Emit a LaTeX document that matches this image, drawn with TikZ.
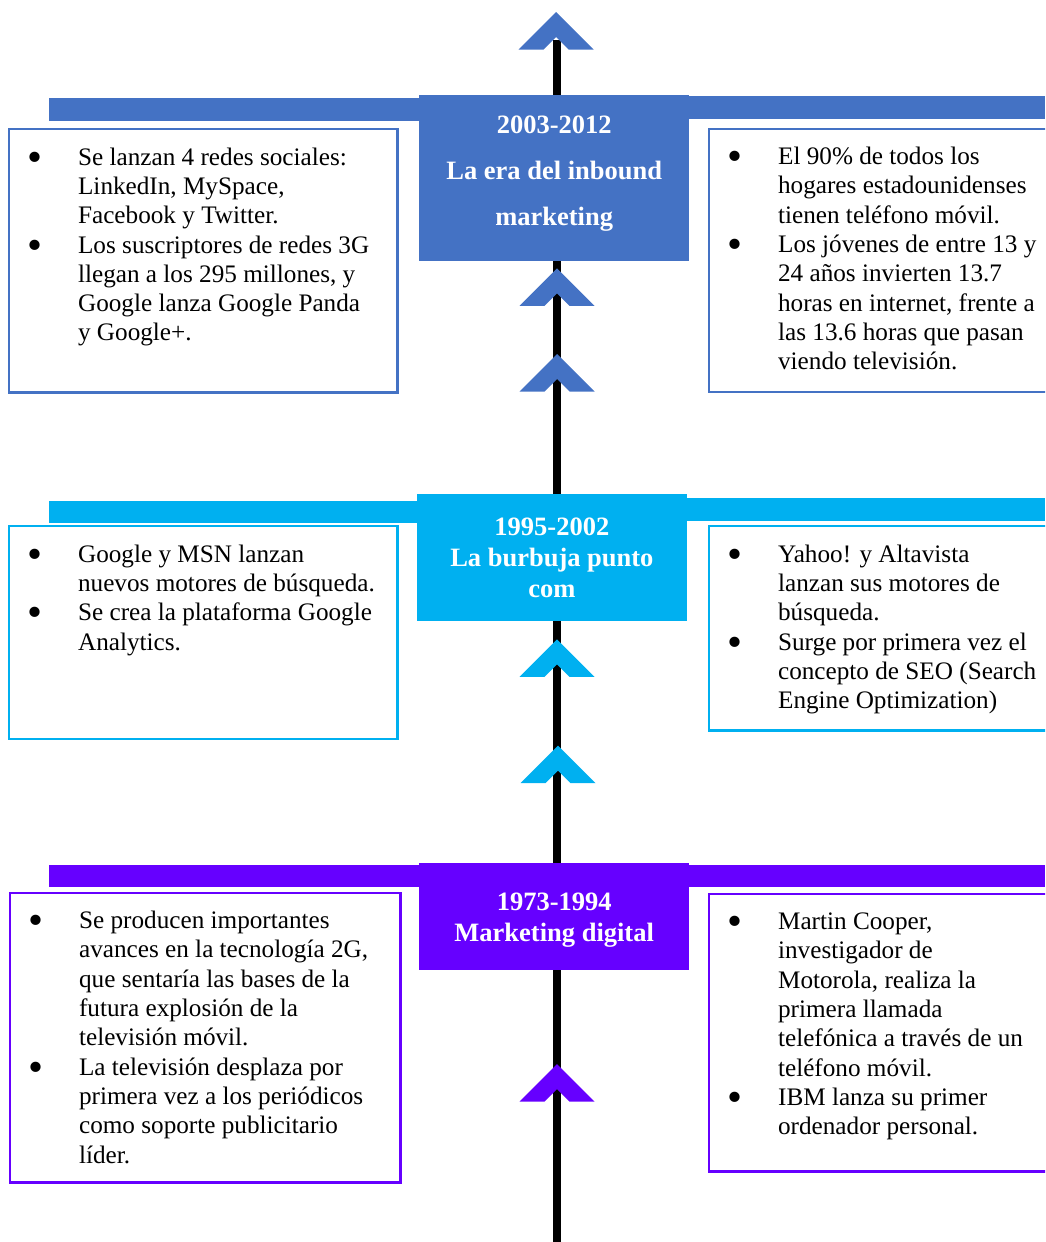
\documentclass[tikz,border=0pt]{standalone}
\usepackage{fontspec}
\setmainfont{Liberation Serif}
\definecolor{inbound}{HTML}{4472C4}
\definecolor{puntocom}{HTML}{00B0F0}
\definecolor{digital}{HTML}{6600FF}
\tikzset{header/.style={fill=#1,inner sep=0pt,anchor=north west,text=white},
  infobox/.style={draw=#1,line width=2.2pt,fill=white,inner xsep=22pt,inner ysep=15.5pt,
  anchor=north west,font=\fontsize{25.2}{29.3}\selectfont},
  spine/.style={line width=7.5pt,draw=black}}
% header text: height, line skip, top gap, lines
\newcommand{\hdtext}[4]{\parbox[c][#1pt][t]{270pt}{\fontsize{26.5}{#2}\selectfont\bfseries\centering\vspace*{#3pt}#4}}
% bullet list in a box of given height and width
\newcommand{\bigdot}{\hspace*{-3.5pt}\raisebox{-6pt}{\scalebox{1.7}{\textbullet}}}
\newcommand{\bitem}[1]{\bigdot&\begin{tabular}[t]{@{}l@{}}#1\end{tabular}\\}
\newcommand{\itemsbox}[3]{\parbox[c][#1pt][t]{#2pt}{\begin{tabular}{@{}p{47pt}@{}l@{}}#3\end{tabular}}}

\begin{document}
\begin{tikzpicture}[x=1pt,y=-1pt]
\useasboundingbox (0,0) rectangle (1045,1242);
\clip (0,0) rectangle (1045,1242);
\coordinate (top) at (557,40);
\coordinate (bottom) at (557,1242);
\draw[spine] (top)--(bottom);
% bands
\fill[inbound] (49,98) rectangle (560,120.5);
\fill[inbound] (560,96) rectangle (1045,118.5);
\fill[puntocom] (49,501) rectangle (560,523.3);
\fill[puntocom] (560,498.3) rectangle (1045,520.5);
\fill[digital] (49,864.5) rectangle (1045,886.5);
% periods
\node[header=inbound] (era) at (419,95) {\hdtext{166}{46}{20.3}{2003-2012\\La era del inbound\\marketing}};
\node[header=puntocom] (burbuja) at (416.7,494) {\hdtext{126.7}{31}{23.7}{1995-2002\\La burbuja punto\\com}};
\node[header=digital] (digital) at (419,862.7) {\hdtext{106.6}{31}{30}{1973-1994\\Marketing digital}};
% events
\node[infobox=inbound] (redes) at (8,128) {\itemsbox{232.3}{344.3}{%
\bitem{Se lanzan 4 redes sociales:\\LinkedIn, MySpace,\\Facebook y Twitter.}
\bitem{Los suscriptores de redes 3G\\llegan a los 295 millones, y\\Google lanza Google Panda\\y Google+.}}};
\node[infobox=inbound] (hogares) at (708,127.5) {\itemsbox{232.3}{340}{%
\bitem{El 90\% de todos los\\hogares estadounidenses\\tienen teléfono móvil.}
\bitem{Los jóvenes de entre 13 y\\24 años invierten 13.7\\horas en internet, frente a\\las 13.6 horas que pasan\\viendo televisión.}}};
\node[infobox=puntocom] (google) at (8,525) {\itemsbox{181.8}{344.3}{%
\bitem{Google y MSN lanzan\\nuevos motores de búsqueda.}
\bitem{Se crea la plataforma Google\\Analytics.}}};
\node[infobox=puntocom] (yahoo) at (708,525) {\itemsbox{173.3}{340}{%
\bitem{Yahoo! y Altavista\\lanzan sus motores de\\búsqueda.}
\bitem{Surge por primera vez el\\concepto de SEO (Search\\Engine Optimization)}}};
\node[infobox=digital] (tecno) at (9,891.5) {\itemsbox{258.8}{346.3}{%
\bitem{Se producen importantes\\avances en la tecnología 2G,\\que sentaría las bases de la\\futura explosión de la\\televisión móvil.}
\bitem{La televisión desplaza por\\primera vez a los periódicos\\como soporte publicitario\\líder.}}};
\node[infobox=digital] (cooper) at (708,892.5) {\itemsbox{246.8}{340}{%
\bitem{Martin Cooper,\\investigador de\\Motorola, realiza la\\primera llamada\\telefónica a través de un\\teléfono móvil.}
\bitem{IBM lanza su primer\\ordenador personal.}}};
% chevrons on the line
\foreach \x/\y/\c in {556/12/inbound,557/268.3/inbound,557/354/inbound,557/639.3/puntocom,558/745.7/puntocom,557/1064/digital}
  \fill[\c] (\x,\y) -- ++(-37.5,37.5) -- ++(25,0) -- ++(12.5,-12.5) -- ++(12.5,12.5) -- ++(25,0) -- cycle;
\end{tikzpicture}
\end{document}
